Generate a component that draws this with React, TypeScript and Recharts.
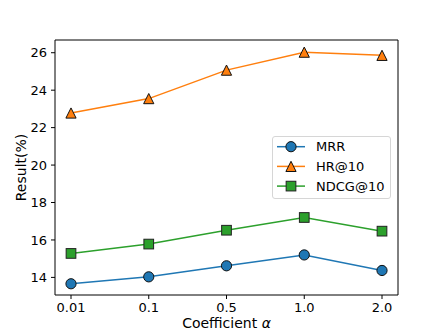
import React from "react";
import { LineChart, Line, XAxis, YAxis, Legend } from "recharts";

const alphas = ["0.01", "0.1", "0.5", "1.0", "2.0"];
const mrr = [13.66, 14.03, 14.62, 15.2, 14.37];
const hr10 = [22.78, 23.55, 25.07, 26.03, 25.86];
const ndcg10 = [15.28, 15.78, 16.52, 17.2, 16.47];
const yTicks = [14, 16, 18, 20, 22, 24, 26];
const yDomain = [13.06, 26.68];

const series = [
  { key: "mrr", name: "MRR", color: "#1f77b4", shape: "circle" },
  { key: "hr", name: "HR@10", color: "#ff7f0e", shape: "triangle" },
  { key: "ndcg", name: "NDCG@10", color: "#2ca02c", shape: "square" },
];

const data = alphas.map((a, i) => ({ alpha: a, mrr: mrr[i], hr: hr10[i], ndcg: ndcg10[i] }));

const FONT = "'DejaVu Sans', sans-serif";

function marker(shape: string, color: string, cx: number, cy: number, key?: any) {
  const s = 5.1;
  if (shape === "triangle") {
    return (
      <path
        key={key}
        d={`M${cx},${cy - s}L${cx + s},${cy + s}L${cx - s},${cy + s}Z`}
        fill={color}
        stroke="#111"
        strokeWidth={1}
      />
    );
  }
  if (shape === "square") {
    const h = s * 0.95;
    return <rect key={key} x={cx - h} y={cy - h} width={2 * h} height={2 * h} fill={color} stroke="#222" strokeWidth={1} />;
  }
  return <circle key={key} cx={cx} cy={cy} r={s} fill={color} stroke="#111" strokeWidth={1} />;
}

const LegendBox = () => (
  <div
    style={{
      width: 119,
      height: 63,
      border: "1px solid #d6d6d6",
      borderRadius: 3,
      background: "rgba(255,255,255,0.8)",
      boxSizing: "border-box",
      position: "relative",
    }}
  >
    <svg width={117} height={61} style={{ position: "absolute", left: 0, top: 0 }}>
      {series.map((s, i) => {
        const y = 9.7 + i * 19.7;
        return (
          <g key={s.key}>
            <line x1={4} x2={32} y1={y} y2={y} stroke={s.color} strokeWidth={1.5} />
            {marker(s.shape, s.color, 18, y)}
            <text x={43} y={y} dominantBaseline="central" fontFamily={FONT} fontSize={13} fill="#000">
              {s.name}
            </text>
          </g>
        );
      })}
    </svg>
  </div>
);

export default function App() {
  return (
    <div style={{ position: "fixed", left: 0, top: 0, width: 443, height: 332, background: "#fff" }}>
      <LineChart width={443} height={332} data={data} margin={{ top: 39, right: 44, bottom: 0, left: 0 }}>
        <XAxis
          dataKey="alpha"
          type="category"
          padding={{ left: 16, right: 16 }}
          height={37}
          axisLine={{ stroke: "#000" }}
          tickLine={{ stroke: "#000" }}
          tickSize={4}
          tickMargin={4}
          tick={{ fill: "#000", fontSize: 13, fontFamily: FONT }}
          interval={0}
          label={{
            content: (p: any) => {
              const vb = p.viewBox;
              return (
                <text
                  x={vb.x + vb.width / 2}
                  y={vb.y + vb.height - 4}
                  textAnchor="middle"
                  fontFamily={FONT}
                  fontSize={14}
                  fill="#000"
                >
                  Coefficient <tspan fontStyle="italic">α</tspan>
                </text>
              );
            },
          }}
        />
        <XAxis
          xAxisId="top"
          orientation="top"
          dataKey="alpha"
          type="category"
          height={1}
          tick={false}
          tickLine={false}
          axisLine={{ stroke: "#000" }}
        />
        <YAxis
          domain={yDomain}
          ticks={yTicks}
          width={55}
          allowDataOverflow
          axisLine={{ stroke: "#000" }}
          tickLine={{ stroke: "#000" }}
          tickSize={4}
          tickMargin={4}
          tick={{ fill: "#000", fontSize: 13, fontFamily: FONT }}
          label={{
            content: (p: any) => {
              const vb = p.viewBox;
              const cx = 20.5;
              const cy = vb.y + vb.height / 2;
              return (
                <text
                  x={cx}
                  y={cy}
                  transform={`rotate(-90 ${cx} ${cy})`}
                  textAnchor="middle"
                  dominantBaseline="central"
                  fontFamily={FONT}
                  fontSize={14}
                  fill="#000"
                >
                  Result(%)
                </text>
              );
            },
          }}
        />
        <YAxis
          yAxisId="right"
          orientation="right"
          domain={yDomain}
          width={1}
          tick={false}
          tickLine={false}
          axisLine={{ stroke: "#000" }}
        />
        {series.map((s) => (
          <Line
            key={s.key}
            dataKey={s.key}
            name={s.name}
            stroke={s.color}
            strokeWidth={1.5}
            isAnimationActive={false}
            dot={(p: any) => marker(s.shape, s.color, p.cx, p.cy, p.key ?? `${s.key}-${p.index}`)}
            activeDot={false}
          />
        ))}
        <Legend
          layout="vertical"
          align="center"
          verticalAlign="middle"
          content={<LegendBox />}
          wrapperStyle={{ left: 272, top: 136, width: 119, height: 63 }}
        />
      </LineChart>
    </div>
  );
}
